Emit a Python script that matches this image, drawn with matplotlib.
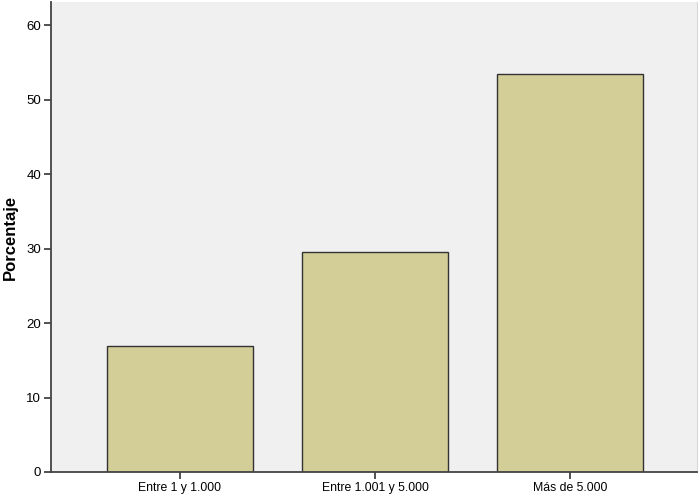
import matplotlib
matplotlib.use("Agg")
import matplotlib.pyplot as plt

plt.rcParams['font.family'] = ['Liberation Sans', 'DejaVu Sans']

categorias = ["Entre 1 y 1.000", "Entre 1.001 y 5.000", "Más de 5.000"]
porcentajes = [16.9, 29.6, 53.5]
yticks = [0, 10, 20, 30, 40, 50, 60]

fig = plt.figure(figsize=(7.0, 4.99), dpi=100)
ax = fig.add_axes([51 / 700, 27 / 499, 646 / 700, 470 / 499])
ax.set_facecolor("#f0f0f0")

pos = list(range(len(categorias)))
ax.bar(pos, porcentajes, width=0.75, color="#d3ce98", edgecolor="#333333", linewidth=1.0, zorder=2)

ax.set_xlim(-0.66, 2.65)
ax.set_ylim(0, 63.1)
ax.set_xticks(pos)
ax.set_xticklabels(categorias, fontsize=8.8)
ax.set_yticks(yticks)
ax.set_yticklabels([str(t) for t in yticks], fontsize=9.5)
ax.tick_params(axis="both", length=5, width=1.2, color="#333333", pad=2)

ax.set_ylabel("Porcentaje", fontsize=12, fontweight="bold", labelpad=6)

ax.spines["left"].set_color("#444444")
ax.spines["left"].set_linewidth(1.3)
ax.spines["bottom"].set_color("#444444")
ax.spines["bottom"].set_linewidth(1.3)
ax.spines["right"].set_color("#d8d8d8")
ax.spines["top"].set_visible(False)

fig.savefig("out.png", dpi=100, facecolor="white")
